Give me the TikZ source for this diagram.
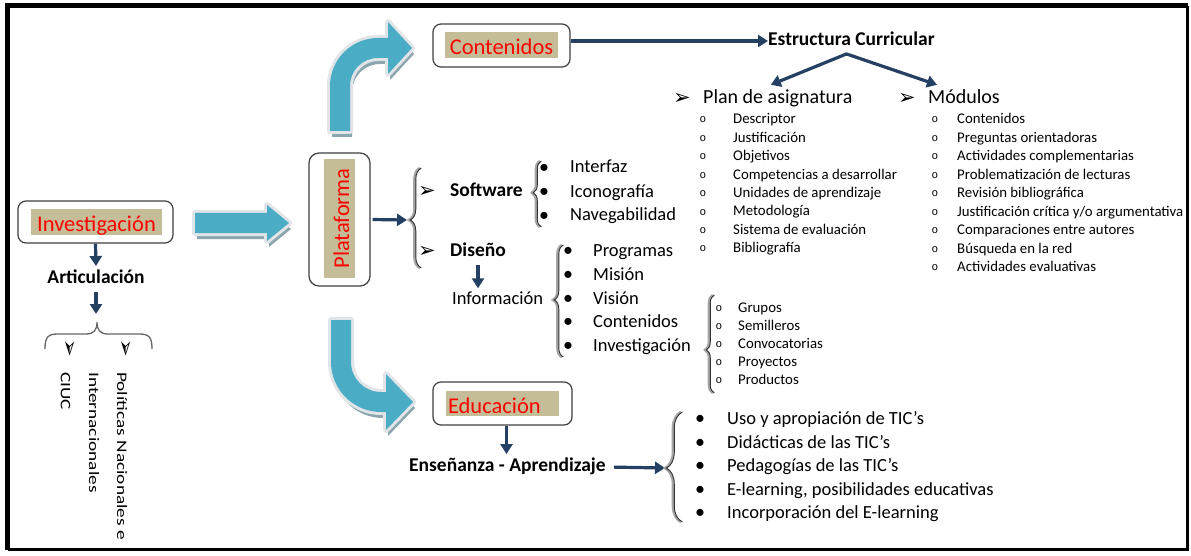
\documentclass[tikz,border=0pt]{standalone}
\usepackage{fontspec}
\usepackage{graphicx}
\setmainfont{Carlito}
\newfontfamily\djv{DejaVu Sans}
\newfontfamily\cour{Liberation Mono}
\usetikzlibrary{arrows.meta,decorations.pathreplacing,calc,shadows}
\definecolor{navy}{RGB}{36,64,98}
\definecolor{aqua}{RGB}{75,172,198}
\definecolor{tanc}{RGB}{196,189,151}
\definecolor{shade}{RGB}{140,166,176}
\definecolor{glowc}{RGB}{226,229,232}
\definecolor{bgray}{RGB}{165,165,165}
\definecolor{boxline}{RGB}{64,64,64}
\tikzset{
  boxo/.style={draw=boxline, line width=1.2pt, rounded corners=8pt, fill=white, inner sep=0},
  tanl/.style={fill=tanc, text=red, font=\fontsize{22.5}{27}\selectfont, inner sep=0, text height=19pt, text depth=0pt},
  navyarr/.style={draw=navy, line width=3.2pt, -{Triangle[length=10pt,width=12pt]}},
  blab/.style={font=\bfseries\fontsize{19.5}{23}\selectfont, inner xsep=0pt, inner ysep=4pt, text height=13.5pt, text depth=4pt},
  reg/.style={font=\fontsize{18.5}{22}\selectfont, anchor=west, inner sep=0, text height=13pt, text depth=4pt},
  mid/.style={font=\fontsize{20}{24}\selectfont, anchor=west, inner sep=0, text height=14pt, text depth=4pt},
  sml/.style={font=\fontsize{14.8}{18}\selectfont, anchor=west, inner sep=0, text height=10.5pt, text depth=3pt},
  obul/.style={font=\cour\fontsize{11}{13}\selectfont, inner sep=0},
  dbul/.style={font=\fontsize{20}{24}\selectfont, inner sep=0},
  abul/.style={font=\djv\fontsize{21}{24}\selectfont, inner sep=0},
  vtxt/.style={rotate=-90, anchor=north west, inner sep=0, align=left, font=\fontsize{14.5}{28}\selectfont},
  blk/.style={drop shadow={shadow xshift=2pt, shadow yshift=-6pt, fill=shade, opacity=1},
              preaction={draw=glowc, line width=6pt, line join=round}, fill=aqua},
  brgray/.style={draw=bgray, line width=2.6pt},
  brblack/.style={draw=black!80, line width=0.9pt, xshift=1.3pt},
}
\begin{document}
\begin{tikzpicture}[x=1pt,y=-1pt]
\useasboundingbox (0,0) rectangle (1191,556);
\fill[white] (0,0) rectangle (1191,556);
% frame
\draw[line width=5pt] (7.5,549.5) -- (7.5,6) -- (1187.5,6);
\draw[line width=3.5pt] (1187.5,6) -- (1187.5,549.5) -- (7.5,549.5);

% block arrows
\path[blk] (195,213) -- (267,213) -- (267,205) -- (289,223) -- (267,241) -- (267,233) -- (195,233) -- cycle;
\path[blk] (330,131) -- (330,86) .. controls (330,59.5) and (351.5,38) .. (378,38) -- (388,38) -- (388,22) -- (412,48) -- (388,74) -- (388,58) -- (378,58) .. controls (362.5,58) and (350,70.5) .. (350,86) -- (350,131) -- cycle;
\path[blk] (331,320) -- (331,362) .. controls (331,389.6) and (353.4,412) .. (381,412) -- (386,412) -- (386,430) -- (413,402) -- (386,374) -- (386,392) -- (381,392) .. controls (364.4,392) and (351,378.6) .. (351,362) -- (351,320) -- cycle;

% boxes
\node[boxo, minimum width=155pt, minimum height=42pt] (invbox) at (95.5,222) {};
\node[tanl, minimum width=131pt, minimum height=26pt] (inv) at (96.5,222) {Investigación};
\node[boxo, minimum width=61pt, minimum height=133pt, rounded corners=10pt] (platbox) at (339.5,219.5) {};
\node[tanl, rotate=90, minimum width=119pt, minimum height=31pt] (plat) at (339.5,218.5) {Plataforma};
\node[boxo, minimum width=137pt, minimum height=43pt] (contbox) at (501.5,45.5) {};
\node[tanl, minimum width=113pt, minimum height=26pt] (cont) at (501.5,45) {Contenidos};
\node[boxo, minimum width=139pt, minimum height=43pt] (edubox) at (502.5,403.5) {};
\node[tanl, minimum width=113pt, minimum height=25pt, text width=109pt, inner xsep=2pt, align=left] (edu) at (502.5,403.5) {Educación};

% left part
\node[blab] (artic) at (96,279) {Articulación};
\coordinate (artend) at (96,314);
\draw[navyarr] (invbox.south) -- (artic.north);
\draw[navyarr] (artic.south) -- (artend);
\draw[draw=black!60, line width=1.3pt] (45,349) .. controls (45,337) and (48,334) .. (58,334) -- (86,334) .. controls (94,334) and (97,330) .. (97,322) .. controls (97,330) and (100,334) .. (108,334) -- (139,334) .. controls (149,334) and (152,337) .. (152,349);
\node[abul, rotate=-90] (ab1) at (69,348) {➢};
\node[abul, rotate=-90] (ab2) at (125,348) {➢};
\node[vtxt] (ciuc) at (70.5,372) {\scalebox{1.33}[1]{CIUC}};
\node[vtxt] (pol) at (127.5,372) {\scalebox{1.33}[1]{Políticas Nacionales e}\\\scalebox{1.33}[1]{Internacionales}};

% plataforma branch
\coordinate (ptip) at (407,220);
\draw[navyarr, shorten <=2pt] (platbox.east) -- (ptip);
\draw[brgray, decorate, decoration={brace, amplitude=11pt, aspect=0.48}] (420,268) -- (420,168);
\draw[brblack, decorate, decoration={brace, amplitude=11pt, aspect=0.48}] (420,268) -- (420,168);
\node[abul] (sa) at (427,192) {➢};
\node[abul] (da) at (427,252) {➢};
\node[blab, anchor=west] (soft) at (450,192) {Software};
\node[blab, anchor=west] (dis) at (450,252) {Diseño};

\draw[brgray, decorate, decoration={brace, amplitude=8pt, aspect=0.52}] (540,227) -- (540,161);
\draw[brblack, decorate, decoration={brace, amplitude=8pt, aspect=0.52}] (540,227) -- (540,161);
\foreach \t [count=\i from 0] in {Interfaz,Iconografía,Navegabilidad}{
  \node[dbul] (sb\i) at (544,{168.5+\i*24}) {•};
  \node[reg] (si\i) at (570,{168.5+\i*24}) {\t};
}

\node[reg, inner ysep=3pt] (info) at (452,300) {Información};
\draw[navyarr] (dis.south) -- (dis.south |- info.north);
\draw[brgray, decorate, decoration={brace, amplitude=9pt, aspect=0.51}] (562,357) -- (562,245);
\draw[brblack, decorate, decoration={brace, amplitude=9pt, aspect=0.51}] (562,357) -- (562,245);
\foreach \t [count=\i from 0] in {Programas,Misión,Visión,Contenidos,Investigación}{
  \node[dbul] (ib\i) at (568,{252+\i*23.75}) {•};
  \node[reg] (ii\i) at (593,{252+\i*23.75}) {\t};
}
\draw[brgray, decorate, decoration={brace, amplitude=8pt, aspect=0.44}] (713,393) -- (713,295);
\draw[brblack, decorate, decoration={brace, amplitude=8pt, aspect=0.44}] (713,393) -- (713,295);
\foreach \t [count=\i from 0] in {Grupos,Semilleros,Convocatorias,Proyectos,Productos}{
  \node[obul] (gb\i) at (719,{309+\i*18}) {o};
  \node[sml] (gi\i) at (738,{309+\i*18}) {\t};
}

% contenidos branch
\node[blab, anchor=west] (estr) at (768,41) {Estructura Curricular};
\draw[navyarr] (contbox.east |- estr.west) -- (estr.west);
\node[mid] (plan) at (703,99) {Plan de asignatura};
\node[mid] (modul) at (928,99) {Módulos};
\node[abul] (pa) at (682,99) {➢};
\node[abul] (ma) at (907,99) {➢};
\coordinate (esplit) at ($(estr.south)+(-5,0)$);
\draw[navyarr, line cap=round] (esplit) -- ($(plan.north)+(-7,-5)$);
\draw[navyarr, line cap=round] (esplit) -- ($(modul.north)+(-27,-5)$);
\foreach \t [count=\i from 0] in {Descriptor,Justificación,Objetivos,Competencias a desarrollar,Unidades de aprendizaje,Metodología,Sistema de evaluación,Bibliografía}{
  \node[obul] (pb\i) at (703,{120+\i*18.43}) {o};
  \node[sml] (pi\i) at (733,{120+\i*18.43}) {\t};
}
\foreach \t [count=\i from 0] in {Contenidos,Preguntas orientadoras,Actividades complementarias,Problematización de lecturas,Revisión bibliográfica,Justificación crítica y/o argumentativa,Comparaciones entre autores,Búsqueda en la red,Actividades evaluativas}{
  \node[obul] (mb\i) at (935,{120+\i*18.5}) {o};
  \node[sml] (mi\i) at (957,{120+\i*18.5}) {\t};
}

% educacion branch
\node[blab, anchor=west] (ens) at (409,467) {Enseñanza - Aprendizaje};
\draw[navyarr] ($(edubox.south)+(4,0)$) coordinate (eds) -- (eds |- ens.north);
\coordinate (ebtip) at (665,468);
\draw[navyarr, shorten <=8pt] (ens.east) -- (ebtip);
\draw[brgray, decorate, decoration={brace, amplitude=16pt, aspect=0.49}] (681,522) -- (681,412);
\draw[brblack, decorate, decoration={brace, amplitude=16pt, aspect=0.49}] (681,522) -- (681,412);
\foreach \t [count=\i from 0] in {Uso y apropiación de TIC’s,Didácticas de las TIC’s,Pedagogías de las TIC’s,{E-learning, posibilidades educativas},Incorporación del E-learning}{
  \node[dbul] (eb\i) at (700,{420+\i*23.5}) {•};
  \node[reg] (ei\i) at (727,{420+\i*23.5}) {\t};
}
\end{tikzpicture}
\end{document}
